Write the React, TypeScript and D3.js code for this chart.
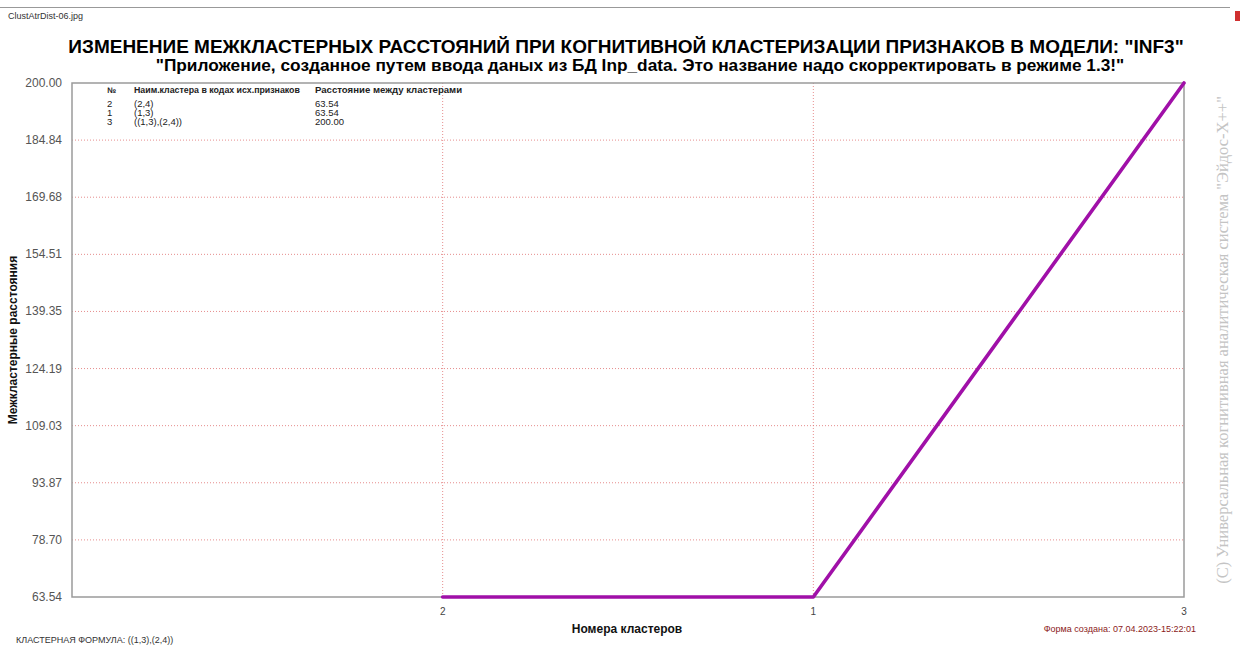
import React from "react";
import * as d3 from "d3";

const categories = ["2", "1", "3"];
const distances = [63.54, 63.54, 200.0];
const yTicks = [63.54, 78.7, 93.87, 109.03, 124.19, 139.35, 154.51, 169.68, 184.84, 200.0];
const tableNums = ["2", "1", "3"];
const tableNames = ["(2,4)", "(1,3)", "((1,3),(2,4))"];
const tableDists = ["63.54", "63.54", "200.00"];

const W = 1240;
const H = 646;
const L = 72, R = 1184, T = 83, B = 597;

export default function App() {
  const x = d3.scaleLinear().domain([0, categories.length]).range([L, R]);
  const y = d3.scaleLinear().domain([yTicks[0], yTicks[yTicks.length - 1]]).range([B, T]);
  const line = d3
    .line<number>()
    .x((_, i) => x(i + 1))
    .y((d) => y(d));
  const font = "Arial, 'Liberation Sans', sans-serif";
  return (
    <svg
      width={W}
      height={H}
      style={{ position: "absolute", left: 0, top: 0, background: "#fff" }}
      fontFamily={font}
    >
      <rect x={0} y={0} width={W} height={H} fill="#fff" />
      <line x1={0} x2={1230} y1={7.5} y2={7.5} stroke="#999" strokeWidth={1} />
      <rect x={1235} y={11} width={5} height={10} fill="#d03030" />
      <text x={8} y={19} fontSize={9} fill="#333">ClustAtrDist-06.jpg</text>
      <text x={626} y={53} fontSize={19} fontWeight="bold" textAnchor="middle" fill="#000">
        ИЗМЕНЕНИЕ МЕЖКЛАСТЕРНЫХ РАССТОЯНИЙ ПРИ КОГНИТИВНОЙ КЛАСТЕРИЗАЦИИ ПРИЗНАКОВ В МОДЕЛИ: "INF3"
      </text>
      <text x={640} y={71} fontSize={17.3} fontWeight="bold" textAnchor="middle" fill="#000">
        "Приложение, созданное путем ввода даных из БД Inp_data. Это название надо скорректировать в режиме 1.3!"
      </text>
      {/* grid */}
      {yTicks.map((t, i) =>
        i === 0 || i === yTicks.length - 1 ? null : (
          <line key={"gy" + i} x1={L} x2={R} y1={y(t)} y2={y(t)} stroke="#e07070" strokeWidth={0.8} strokeDasharray="1,2" />
        )
      )}
      {categories.map((c, i) =>
        i === categories.length - 1 ? null : (
          <line key={"gx" + i} x1={x(i + 1)} x2={x(i + 1)} y1={T} y2={B} stroke="#e07070" strokeWidth={0.8} strokeDasharray="1,2" />
        )
      )}
      {/* frame */}
      <rect x={L} y={T} width={R - L} height={B - T} fill="none" stroke="#9a9a9a" strokeWidth={1.5} />
      {/* y ticks */}
      {yTicks.map((t, i) => (
        <text key={"yt" + i} x={62} y={y(t) + 4} fontSize={12} textAnchor="end" fill="#555">
          {t.toFixed(2)}
        </text>
      ))}
      {categories.map((c, i) => (
        <text key={"xt" + i} x={x(i + 1)} y={615} fontSize={10} textAnchor="middle" fill="#444">
          {c}
        </text>
      ))}
      {/* table */}
      <g fontSize={9.5} fill="#222">
        <text x={107} y={93} fontWeight="bold" fontSize={8}>№</text>
        <text x={134} y={93} fontWeight="bold" fontSize={8.8}>Наим.кластера в кодах исх.признаков</text>
        <text x={315} y={93} fontWeight="bold" fontSize={9.6}>Расстояние между кластерами</text>
        {tableNums.map((n, i) => (
          <g key={"tr" + i}>
            <text x={107} y={106.5 + i * 9}>{n}</text>
            <text x={134} y={106.5 + i * 9}>{tableNames[i]}</text>
            <text x={315} y={106.5 + i * 9}>{tableDists[i]}</text>
          </g>
        ))}
      </g>
      {/* line */}
      <path d={line(distances) || ""} fill="none" stroke="#a010a8" strokeWidth={3.6} strokeLinejoin="round" strokeLinecap="round" />
      {/* axis titles */}
      <text x={627} y={633} fontSize={12} fontWeight="bold" textAnchor="middle" fill="#111">Номера кластеров</text>
      <text transform="translate(17,340) rotate(-90)" fontSize={12} fontWeight="bold" textAnchor="middle" fill="#111">
        Межкластерные расстояния
      </text>
      <text x={16} y={643} fontSize={9} fill="#333">КЛАСТЕРНАЯ ФОРМУЛА:  ((1,3),(2,4))</text>
      <text x={1196} y={632} fontSize={9} textAnchor="end" fill="#8b1a1a">Форма создана: 07.04.2023-15:22:01</text>
      <text
        transform="translate(1228,340) rotate(-90)"
        fontSize={16.5}
        fontFamily="'Liberation Serif', 'Times New Roman', serif"
        textAnchor="middle"
        fill="#c4c4c4"
      >
        (С) Универсальная когнитивная аналитическая система "Эйдос-Х++"
      </text>
    </svg>
  );
}
